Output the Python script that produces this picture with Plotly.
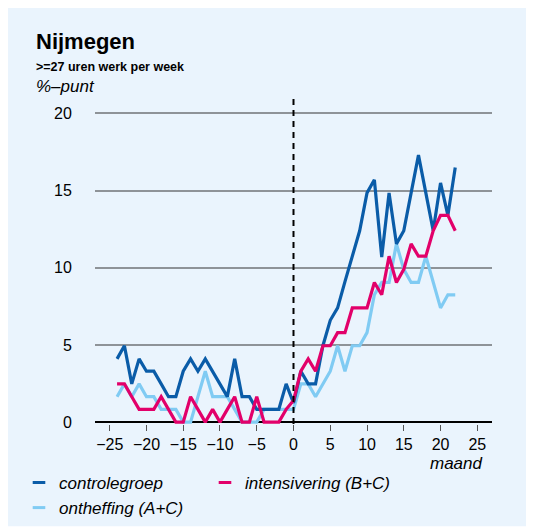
import plotly.graph_objects as go

# ---- data ----
months = list(range(-24, 23))

controlegroep = [4.1, 4.95, 2.48, 4.1, 3.3, 3.3, 2.48, 1.65, 1.65, 3.3, 4.1, 3.3, 4.1, 3.3,
                 2.48, 1.65, 4.1, 1.65, 1.65, 0.83, 0.83, 0.83, 0.83, 2.48,
                 1.24, 3.3, 2.48, 2.48, 4.95, 6.6, 7.4, 9.1, 10.7, 12.4, 14.85, 15.7,
                 10.7, 14.85, 11.55, 12.4, 14.85, 17.3, 14.85, 12.4, 15.5, 13.4, 16.5]

intensivering = [2.48, 2.48, 1.65, 0.83, 0.83, 0.83, 1.65, 0.83, 0.0, 0.0, 1.65, 0.83, 0.0, 0.83,
                 0.0, 0.83, 1.65, 0.0, 0.0, 1.65, 0.0, 0.0, 0.0, 0.83,
                 1.4, 3.3, 4.1, 3.3, 4.95, 4.95, 5.8, 5.8, 7.4, 7.4, 7.4, 9.05,
                 8.25, 10.75, 9.05, 9.9, 11.55, 10.75, 10.75, 12.4, 13.4, 13.4, 12.4]

ontheffing = [1.65, 2.48, 1.65, 2.48, 1.65, 1.65, 0.83, 0.83, 0.83, 0.0, 0.0, 1.65, 3.3, 1.65,
              1.65, 1.65, 0.83, 0.0, 0.0, 0.0, 0.83, 0.83, 0.83, 0.83,
              0.83, 2.48, 2.48, 1.65, 2.48, 3.3, 4.95, 3.3, 4.95, 4.95, 5.8, 8.25,
              9.05, 9.05, 11.55, 9.9, 9.05, 9.05, 10.75, 9.1, 7.4, 8.25, 8.25]

series_names = ["controlegroep", "intensivering (B+C)", "ontheffing (A+C)"]
series_values = [controlegroep, intensivering, ontheffing]
series_colors = ["#0A5CA8", "#E2006A", "#80CBF3"]

x_ticks = [-25, -20, -15, -10, -5, 0, 5, 10, 15, 20, 25]
y_ticks = [0, 5, 10, 15, 20]
intervention_month = 0

FONT = "Liberation Sans, Arial, Helvetica, sans-serif"
BG = "#EAF4FD"

fig = go.Figure()

# draw order: ontheffing (back), controlegroep, intensivering (front)
for idx in [2, 0, 1]:
    fig.add_trace(go.Scatter(
        x=months, y=series_values[idx], mode="lines",
        line=dict(color=series_colors[idx], width=3.2),
        showlegend=False, hoverinfo="skip"))

# legend entries (short line keys)
for name, color in zip(series_names, series_colors):
    fig.add_trace(go.Scatter(
        x=[None], y=[None], mode="markers", name=name,
        marker=dict(symbol="line-ew-open", size=9, color=color,
                    line=dict(width=3, color=color))))

fig.add_shape(type="line", xref="x", yref="y",
              x0=intervention_month, x1=intervention_month, y0=-0.12, y1=21,
              line=dict(color="black", width=2, dash="6px,5px"), layer="above")

# panel background (page body has an 8px margin; window coords = figure + 8)
fig.add_shape(type="rect", xref="paper", yref="paper",
              x0=-0.25, x1=1.093, y0=-0.314, y1=1.30,
              fillcolor=BG, line=dict(width=0), layer="below")

ann_font = dict(family=FONT, color="black")
fig.add_annotation(text="<b>Nijmegen</b>", xref="paper", yref="paper",
                   x=-0.1537, y=1.172, xanchor="left", yanchor="middle",
                   showarrow=False, font=dict(size=22, **ann_font))
fig.add_annotation(text="<b>>=27 uren werk per week</b>", xref="paper", yref="paper",
                   x=-0.1537, y=1.0966, xanchor="left", yanchor="middle",
                   showarrow=False, font=dict(size=12.5, **ann_font))
fig.add_annotation(text="<i>%–punt</i>", xref="paper", yref="paper",
                   x=-0.1537, y=1.035, xanchor="left", yanchor="middle",
                   showarrow=False, font=dict(size=17, **ann_font))
fig.add_annotation(text="<i>maand</i>", xref="paper", yref="paper",
                   x=0.9836, y=-0.121, xanchor="right", yanchor="middle",
                   showarrow=False, font=dict(size=17, **ann_font))

fig.update_layout(
    width=526, height=523,
    margin=dict(l=87, r=42, t=90, b=107, pad=0),
    paper_bgcolor="white", plot_bgcolor="rgba(0,0,0,0)",
    font=dict(family=FONT, size=16, color="black"),
    showlegend=True,
    legend=dict(orientation="h", xref="container", yref="container",
                x=0.0209, y=0.1263, xanchor="left", yanchor="top",
                entrywidth=141, bgcolor="rgba(0,0,0,0)",
                font=dict(family=FONT, size=17, color="black", style="italic"),
                itemclick=False, itemdoubleclick=False, tracegroupgap=0),
    xaxis=dict(range=[-27, 27], tickmode="array", tickvals=x_ticks,
               showgrid=False, zeroline=False, showline=False,
               ticks="outside", ticklen=6, tickwidth=1, tickcolor="#555",
               tickfont=dict(size=16), fixedrange=True),
    yaxis=dict(range=[-0.12, 21], tickmode="array", tickvals=y_ticks,
               showgrid=True, gridcolor="#8E9398", gridwidth=1.5,
               zeroline=True, zerolinecolor="black", zerolinewidth=2,
               showline=False, ticks="outside", ticklen=19,
               tickcolor="rgba(0,0,0,0)",
               tickfont=dict(size=16), fixedrange=True),
)

fig.write_html("out.html")
